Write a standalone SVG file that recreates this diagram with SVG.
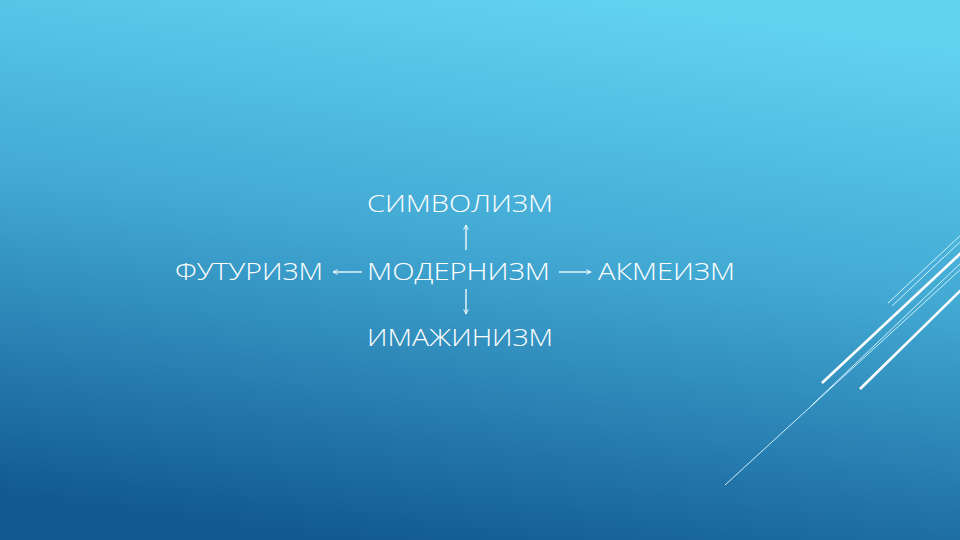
<svg xmlns="http://www.w3.org/2000/svg" width="960" height="540" viewBox="0 0 960 540">
<defs>
<linearGradient id="bg" x1="0.62" y1="0" x2="0.38" y2="1">
<stop offset="0" stop-color="#62d2f1"/>
<stop offset="0.45" stop-color="#42a9d3"/>
<stop offset="1" stop-color="#125a93"/>
</linearGradient>
<marker id="ah" viewBox="0 0 10 10" refX="9" refY="5" markerWidth="6" markerHeight="6" orient="auto" markerUnits="userSpaceOnUse">
<path d="M1,1 L9,5 L1,9" fill="none" stroke="#ffffff" stroke-width="1.4"/>
</marker>
<style>
.t{font-family:"Open Sans","Liberation Sans",sans-serif;font-weight:300;font-size:24px;fill:#ffffff}
.c{stroke:#ffffff;stroke-width:1.3;fill:none}
.thick{stroke:#ffffff;stroke-width:2.6;fill:none}
.thin{stroke:#cdefff;stroke-width:1;fill:none}
</style>
</defs>
<rect width="960" height="540" fill="url(#bg)"/>
<g id="decor">
<line class="thick" x1="822" y1="383" x2="962" y2="252"/>
<line class="thick" x1="860" y1="389" x2="962" y2="289"/>
<line class="thin" x1="888" y1="303" x2="962" y2="234"/>
<line class="thin" x1="892" y1="306" x2="962" y2="240"/>
<line class="thin" x1="810" y1="407" x2="962" y2="262"/>
<line class="thin" x1="725" y1="485" x2="962" y2="268"/>
</g>
<g id="n-symbolism"><text class="t" x="367" y="212" textLength="186" lengthAdjust="spacingAndGlyphs">СИМВОЛИЗМ</text></g>
<g id="n-futurism"><text class="t" x="175" y="280" textLength="148" lengthAdjust="spacingAndGlyphs">ФУТУРИЗМ</text></g>
<g id="n-modernism"><text class="t" x="367" y="280" textLength="183" lengthAdjust="spacingAndGlyphs">МОДЕРНИЗМ</text></g>
<g id="n-acmeism"><text class="t" x="598" y="280" textLength="137" lengthAdjust="spacingAndGlyphs">АКМЕИЗМ</text></g>
<g id="n-imaginism"><text class="t" x="367" y="346" textLength="186" lengthAdjust="spacingAndGlyphs">ИМАЖИНИЗМ</text></g>
<g id="connectors">
<line class="c" x1="466" y1="250" x2="466" y2="225" marker-end="url(#ah)"/>
<line class="c" x1="466" y1="289" x2="466" y2="314" marker-end="url(#ah)"/>
<line class="c" x1="362" y1="272" x2="333" y2="272" marker-end="url(#ah)"/>
<line class="c" x1="559" y1="272" x2="591" y2="272" marker-end="url(#ah)"/>
</g>
</svg>
